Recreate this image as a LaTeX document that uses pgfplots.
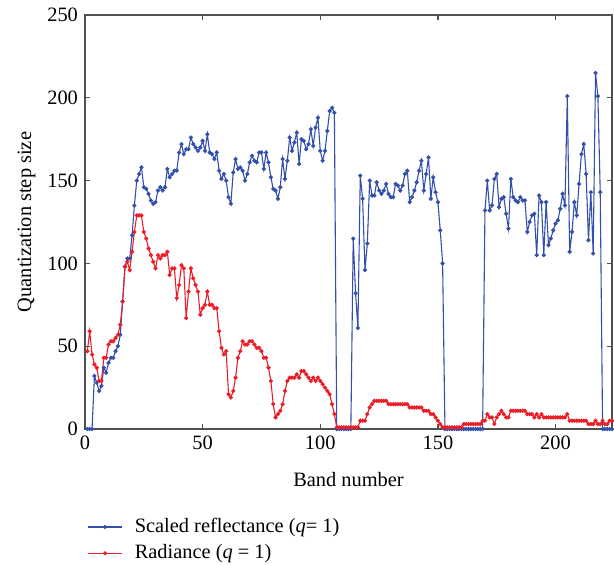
\documentclass[border=0pt]{standalone}
\usepackage{fontspec}
\setmainfont{Liberation Serif}
\usepackage{pgfplots}
\pgfplotsset{compat=1.18}
\definecolor{cblue}{RGB}{50,80,170}
\definecolor{cred}{RGB}{235,30,40}
\definecolor{axgray}{RGB}{80,80,80}
\begin{document}
\begin{tikzpicture}
\begin{axis}[
  scale only axis,
  width=263.5pt, height=207pt,
  xmin=0, xmax=224, ymin=0, ymax=250,
  xtick={0,50,100,150,200}, ytick={0,50,100,150,200,250},
  tick align=inside, major tick length=2.5pt,
  axis line style={axgray, line width=0.9pt},
  every tick/.style={axgray, line width=0.6pt},
  /pgf/number format/assume math mode=true,
  ticklabel style={font=\fontsize{10.2}{12}\selectfont},
  label style={font=\fontsize{10.2}{12}\selectfont},
  xlabel={Band number},
  ylabel={Quantization step size},
  xlabel style={at={(axis description cs:0.5,-0.121)}, anchor=center},
  ylabel style={at={(axis description cs:-0.111,0.5)}, anchor=center, rotate=0},
  legend style={at={(axis description cs:0.004,-0.205)}, anchor=north west, draw=none, fill=none,
    font=\fontsize{10.2}{12}\selectfont, row sep=0.5pt, inner sep=0pt, column sep=4pt},
  legend cell align=left,
]
\addplot[cblue, line width=0.55pt, mark=*, mark size=0.75pt] coordinates {
(1,0)(2,0)(3,0)(4,32)(5,28)(6,23)(7,26)(8,37)(9,34)(10,40)
(11,43)(12,43)(13,47)(14,50)(15,57)(16,77)(17,98)(18,103)(19,103)(20,117)
(21,135)(22,150)(23,154)(24,158)(25,146)(26,145)(27,142)(28,138)(29,136)(30,137)
(31,144)(32,146)(33,144)(34,146)(35,157)(36,152)(37,154)(38,156)(39,156)(40,167)
(41,172)(42,166)(43,169)(44,169)(45,176)(46,172)(47,170)(48,168)(49,170)(50,174)
(51,168)(52,178)(53,167)(54,166)(55,163)(56,167)(57,156)(58,151)(59,154)(60,150)
(61,140)(62,136)(63,155)(64,163)(65,157)(66,158)(67,156)(68,150)(69,154)(70,161)
(71,165)(72,162)(73,161)(74,167)(75,167)(76,157)(77,167)(78,161)(79,152)(80,145)
(81,144)(82,139)(83,146)(84,163)(85,151)(86,162)(87,176)(88,168)(89,173)(90,179)
(91,160)(92,175)(93,174)(94,169)(95,172)(96,181)(97,171)(98,182)(99,188)(100,168)
(101,162)(102,168)(103,180)(104,192)(105,194)(106,191)(107,0)(108,0)(109,0)(110,0)
(111,0)(112,0)(113,0)(114,115)(115,82)(116,61)(117,153)(118,139)(119,96)(120,112)
(121,150)(122,141)(123,141)(124,149)(125,144)(126,142)(127,144)(128,148)(129,142)(130,140)
(131,140)(132,148)(133,147)(134,144)(135,147)(136,154)(137,156)(138,137)(139,140)(140,144)
(141,149)(142,156)(143,162)(144,144)(145,154)(146,164)(147,139)(148,152)(149,143)(150,137)
(151,120)(152,100)(153,0)(154,0)(155,0)(156,0)(157,0)(158,0)(159,0)(160,0)
(161,0)(162,0)(163,0)(164,0)(165,0)(166,0)(167,0)(168,0)(169,0)(170,132)
(171,150)(172,132)(173,135)(174,151)(175,154)(176,134)(177,139)(178,140)(179,130)(180,121)
(181,151)(182,140)(183,138)(184,137)(185,140)(186,138)(187,138)(188,119)(189,125)(190,129)
(191,130)(192,105)(193,141)(194,137)(195,105)(196,137)(197,111)(198,115)(199,120)(200,124)
(201,126)(202,133)(203,142)(204,135)(205,201)(206,107)(207,119)(208,137)(209,129)(210,148)
(211,166)(212,172)(213,154)(214,114)(215,143)(216,106)(217,215)(218,201)(219,143)(220,0)
(221,0)(222,0)(223,0)(224,0)
};
\addlegendentry{Scaled reflectance (\textit{q}= 1)}
\addplot[cred, line width=0.55pt, mark=*, mark size=0.75pt] coordinates {
(1,47)(2,59)(3,45)(4,39)(5,37)(6,29)(7,29)(8,43)(9,43)(10,51)
(11,53)(12,53)(13,55)(14,57)(15,63)(16,77)(17,98)(18,101)(19,96)(20,107)
(21,119)(22,129)(23,129)(24,129)(25,119)(26,115)(27,109)(28,105)(29,101)(30,97)
(31,105)(32,103)(33,105)(34,105)(35,107)(36,93)(37,97)(38,97)(39,79)(40,87)
(41,99)(42,97)(43,67)(44,83)(45,97)(46,91)(47,87)(48,83)(49,69)(50,73)
(51,75)(52,83)(53,75)(54,75)(55,73)(56,73)(57,59)(58,49)(59,45)(60,47)
(61,21)(62,19)(63,23)(64,31)(65,43)(66,47)(67,53)(68,51)(69,51)(70,53)
(71,53)(72,51)(73,49)(74,49)(75,47)(76,43)(77,43)(78,37)(79,29)(80,15)
(81,7)(82,9)(83,11)(84,15)(85,23)(86,29)(87,31)(88,31)(89,31)(90,33)
(91,31)(92,35)(93,35)(94,33)(95,31)(96,29)(97,31)(98,29)(99,31)(100,29)
(101,27)(102,25)(103,23)(104,21)(105,15)(106,9)(107,1)(108,1)(109,1)(110,1)
(111,1)(112,1)(113,1)(114,1)(115,1)(116,1)(117,5)(118,5)(119,5)(120,9)
(121,13)(122,15)(123,17)(124,17)(125,17)(126,17)(127,17)(128,17)(129,15)(130,15)
(131,15)(132,15)(133,15)(134,15)(135,15)(136,15)(137,15)(138,13)(139,13)(140,13)
(141,13)(142,13)(143,13)(144,11)(145,11)(146,11)(147,9)(148,9)(149,7)(150,5)
(151,3)(152,1)(153,1)(154,1)(155,1)(156,1)(157,1)(158,1)(159,1)(160,1)
(161,3)(162,3)(163,3)(164,3)(165,3)(166,3)(167,3)(168,3)(169,5)(170,5)
(171,9)(172,7)(173,7)(174,3)(175,7)(176,9)(177,11)(178,9)(179,7)(180,7)
(181,11)(182,11)(183,11)(184,11)(185,11)(186,11)(187,11)(188,9)(189,9)(190,9)
(191,7)(192,9)(193,7)(194,9)(195,7)(196,7)(197,7)(198,7)(199,7)(200,7)
(201,7)(202,7)(203,7)(204,7)(205,9)(206,5)(207,5)(208,5)(209,5)(210,5)
(211,5)(212,5)(213,5)(214,3)(215,3)(216,3)(217,5)(218,3)(219,3)(220,5)
(221,3)(222,3)(223,5)(224,5)
};
\addlegendentry{Radiance (\textit{q} = 1)}
\end{axis}
\pgfresetboundingbox
\path (-42.5pt,-67.5pt) rectangle (264.5pt,214.5pt);
\end{tikzpicture}
\end{document}
